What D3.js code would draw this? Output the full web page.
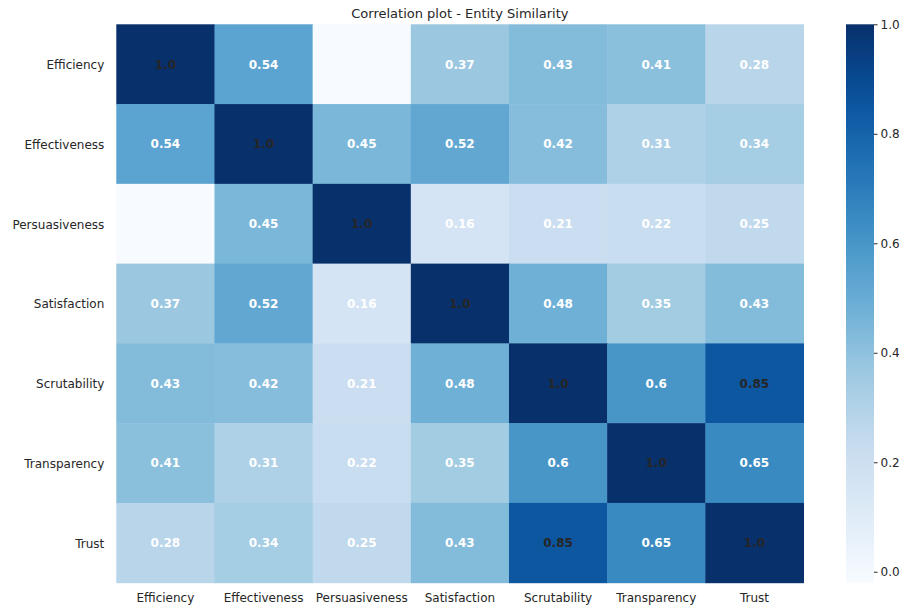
<!DOCTYPE html>
<html>
<head>
<meta charset="utf-8">
<script src="https://cdn.jsdelivr.net/npm/d3@7"></script>
<style>
  body { margin: 0; background: #fff; }
  svg { font-family: "DejaVu Sans", sans-serif; }
</style>
</head>
<body>
<div id="chart"></div>
<script>
// categories (rows and columns share the same order)
const labels = ["Efficiency", "Effectiveness", "Persuasiveness", "Satisfaction",
  "Scrutability", "Transparency", "Trust"];

// correlation matrix, row by row
const corrEfficiency     = [1.0, 0.54, -0.02, 0.37, 0.43, 0.41, 0.28];
const corrEffectiveness  = [0.54, 1.0, 0.45, 0.52, 0.42, 0.31, 0.34];
const corrPersuasiveness = [-0.02, 0.45, 1.0, 0.16, 0.21, 0.22, 0.25];
const corrSatisfaction   = [0.37, 0.52, 0.16, 1.0, 0.48, 0.35, 0.43];
const corrScrutability   = [0.43, 0.42, 0.21, 0.48, 1.0, 0.6, 0.85];
const corrTransparency   = [0.41, 0.31, 0.22, 0.35, 0.6, 1.0, 0.65];
const corrTrust          = [0.28, 0.34, 0.25, 0.43, 0.85, 0.65, 1.0];

const colorbarTicks = [0.0, 0.2, 0.4, 0.6, 0.8, 1.0];
const titleText = "Correlation plot - Entity Similarity";

const matrix = [corrEfficiency, corrEffectiveness, corrPersuasiveness, corrSatisfaction,
  corrScrutability, corrTransparency, corrTrust];

const width = 906, height = 609;
const margin = { top: 24.3, left: 116.3, right: 102.5, bottom: 26.3 };
const gridW = width - margin.left - margin.right;
const gridH = height - margin.top - margin.bottom;

const vmin = d3.min(matrix.flat()), vmax = d3.max(matrix.flat());

// matplotlib "Blues" (linear through the brewer stops)
const blues = ["#f7fbff", "#deebf7", "#c6dbef", "#9ecae1", "#6baed6",
  "#4292c6", "#2171b5", "#08519c", "#08306b"];
const cmap = d3.scaleLinear()
  .domain(d3.range(blues.length).map(i => i / (blues.length - 1)))
  .range(blues)
  .interpolate(d3.interpolateRgb);
const norm = d3.scaleLinear().domain([vmin, vmax]).range([0, 1]);
const color = v => cmap(norm(v));

const x = d3.scaleBand().domain(labels).range([margin.left, margin.left + gridW]);
const y = d3.scaleBand().domain(labels).range([margin.top, margin.top + gridH]);

const svg = d3.select("#chart").append("svg")
  .attr("width", width).attr("height", height);

// cells
const cells = [];
matrix.forEach((row, i) => row.forEach((v, j) => cells.push({ r: labels[i], c: labels[j], v })));

svg.append("g").selectAll("rect")
  .data(cells).enter().append("rect")
  .attr("x", d => x(d.c))
  .attr("y", d => y(d.r))
  .attr("width", x.bandwidth() + 0.5)
  .attr("height", y.bandwidth() + 0.5)
  .attr("fill", d => color(d.v));

// annotations: dark text on the darkest cells, white elsewhere
// (the near-white negative cell shows no visible label)
svg.append("g").selectAll("text")
  .data(cells.filter(d => d.v >= 0)).enter().append("text")
  .attr("x", d => x(d.c) + x.bandwidth() / 2)
  .attr("y", d => y(d.r) + y.bandwidth() / 2)
  .attr("dy", "0.36em")
  .attr("text-anchor", "middle")
  .style("font-size", "12px")
  .style("font-weight", "bold")
  .style("fill", d => norm(d.v) > 0.8 ? "#262626" : "#ffffff")
  .text(d => Number.isInteger(d.v) ? d.v.toFixed(1) : String(d.v));

// axes (no tick marks, like seaborn)
const xAxis = svg.append("g")
  .attr("transform", `translate(0,${margin.top + gridH})`)
  .call(d3.axisBottom(x).tickSize(0).tickPadding(11));
const yAxis = svg.append("g")
  .attr("transform", `translate(${margin.left},1)`)
  .call(d3.axisLeft(y).tickSize(0).tickPadding(12));
[xAxis, yAxis].forEach(a => {
  a.select(".domain").remove();
  a.selectAll("text")
    .style("font-family", "DejaVu Sans, sans-serif")
    .style("font-size", "12px")
    .style("fill", "#262626");
});

// title
svg.append("text")
  .attr("x", margin.left + gridW / 2)
  .attr("y", 17.5)
  .attr("text-anchor", "middle")
  .style("font-size", "13px")
  .style("fill", "#262626")
  .text(titleText);

// colorbar
const cbX = 846, cbW = 28;
const cbScale = d3.scaleLinear().domain([vmin, vmax]).range([margin.top + gridH, margin.top]);
const defs = svg.append("defs");
const grad = defs.append("linearGradient").attr("id", "cbgrad")
  .attr("x1", 0).attr("y1", 1).attr("x2", 0).attr("y2", 0);
d3.range(0, 1.0001, 0.05).forEach(t => {
  grad.append("stop").attr("offset", t).attr("stop-color", cmap(t));
});
svg.append("rect")
  .attr("x", cbX).attr("y", margin.top)
  .attr("width", cbW).attr("height", gridH)
  .attr("fill", "url(#cbgrad)");

const cbAxis = svg.append("g")
  .attr("transform", `translate(${cbX + cbW},0)`)
  .call(d3.axisRight(cbScale).tickValues(colorbarTicks).tickFormat(d3.format(".1f"))
    .tickSize(3.5).tickPadding(3));
cbAxis.select(".domain").remove();
cbAxis.selectAll("line").attr("stroke", "#262626").attr("stroke-width", 1);
cbAxis.selectAll("text")
  .style("font-family", "DejaVu Sans, sans-serif")
  .style("font-size", "12px")
  .style("fill", "#262626");
</script>
</body>
</html>
